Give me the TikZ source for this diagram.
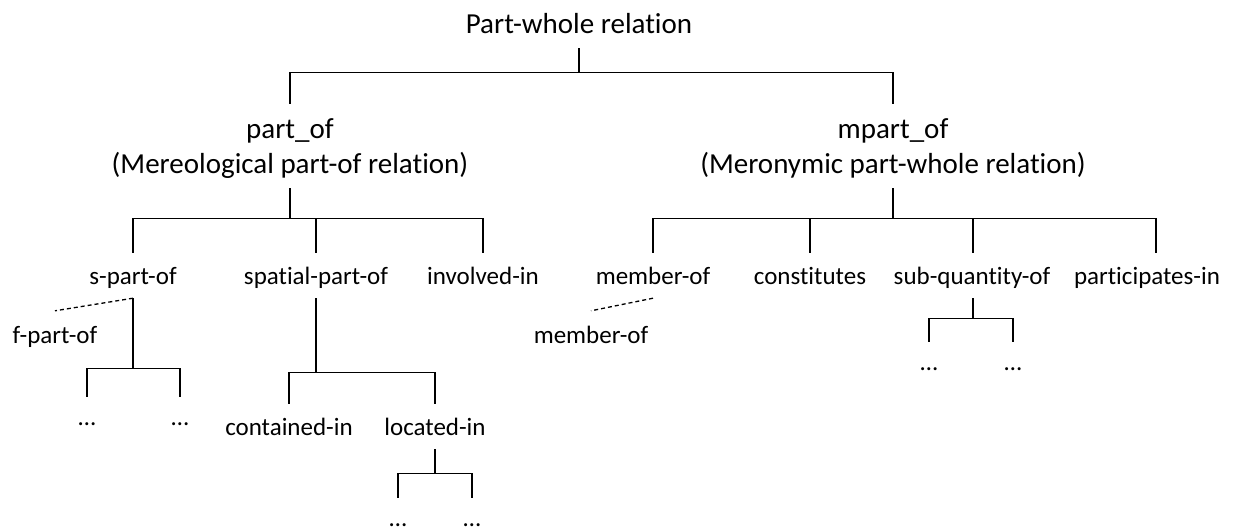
\documentclass[tikz,border=0pt]{standalone}
\usepackage{fontspec}
\setmainfont{Carlito}[Ligatures=NoCommon]
\begin{document}
\begin{tikzpicture}[x=1pt,y=-1pt,
  conn/.style={line width=1.4pt, line cap=rect},
  dashconn/.style={line width=1.3pt, dash pattern=on 4pt off 3pt},
  rootlbl/.style={font=\fontsize{29}{35}\selectfont, inner sep=0pt, text height=20pt, text depth=15pt, anchor=base},
  biglbl/.style={font=\fontsize{29}{35}\selectfont, align=center, inner sep=0pt, anchor=north},
  lbl/.style={font=\fontsize{25}{30}\selectfont, inner sep=0pt, text height=32pt, text depth=14pt, anchor=base},
  dotlbl/.style={lbl, text height=29pt}]
\useasboundingbox (0,0) rectangle (1239,528);
% nodes
\node[rootlbl] (root) at (579,33) {Part-whole relation};
\node[biglbl] (pof) at (290,103) {\rule{0pt}{35pt}part\_of\\(Mereological part-of relation)\rule[-15pt]{0pt}{15pt}};
\node[biglbl] (mpof) at (893,103) {\rule{0pt}{35pt}mpart\_of\\(Meronymic part-whole relation)\rule[-15pt]{0pt}{15pt}};
% left subtree
\node[lbl] (spo) at (133,284) {s-part-of};
\node[lbl] (spat) at (316,284) {spatial-part-of};
\node[lbl] (inv) at (483,284) {involved-in};
\node[lbl] (fpo) at (55,343) {f-part-of};
\node[dotlbl] (d1) at (87,425) {…};
\node[dotlbl] (d2) at (180,425) {…};
\node[lbl] (cont) at (289,435) {contained-in};
\node[lbl] (loc) at (435,435) {located-in};
\node[dotlbl] (d3) at (398,526) {…};
\node[dotlbl] (d4) at (472,526) {…};
% right subtree
\node[lbl] (mem) at (653,284) {member-of};
\node[lbl] (cons) at (810,284) {constitutes};
\node[lbl] (subq) at (972,284) {sub-quantity-of};
\node[lbl] (part) at (1147,284) {participates-in};
\node[lbl] (mem2) at (591,343) {member-of};
\node[dotlbl] (d5) at (929,370) {…};
\node[dotlbl] (d6) at (1013,370) {…};
% connectors
\draw[conn] (root.south) -- ++(0,24) -| (pof.north);
\draw[conn] (root.south) -- ++(0,24) -| (mpof.north);
\draw[conn] (pof.south) -- ++(0,30) -| (spo.north);
\draw[conn] (pof.south) -- ++(0,30) -| (spat.north);
\draw[conn] (pof.south) -- ++(0,30) -| (inv.north);
\draw[conn] (spo.south) -- ++(0,70) -| (d1.north);
\draw[conn] (spo.south) -- ++(0,70) -| (d2.north);
\draw[dashconn] (spo.south) -- (fpo.north);
\draw[conn] (spat.south) -- ++(0,74) -| (cont.north);
\draw[conn] (spat.south) -- ++(0,74) -| (loc.north);
\draw[conn] (loc.south) -- ++(0,24) -| (d3.north);
\draw[conn] (loc.south) -- ++(0,24) -| (d4.north);
\draw[conn] (mpof.south) -- ++(0,30) -| (mem.north);
\draw[conn] (mpof.south) -- ++(0,30) -| (cons.north);
\draw[conn] (mpof.south) -- ++(0,30) -| ([xshift=1pt]subq.north);
\draw[conn] (mpof.south) -- ++(0,30) -| ([xshift=9pt]part.north);
\draw[dashconn] (mem.south) -- (mem2.north);
\draw[conn] ([xshift=1pt]subq.south) -- ++(0,20) -| (d5.north);
\draw[conn] ([xshift=1pt]subq.south) -- ++(0,20) -| (d6.north);
\end{tikzpicture}
\end{document}
